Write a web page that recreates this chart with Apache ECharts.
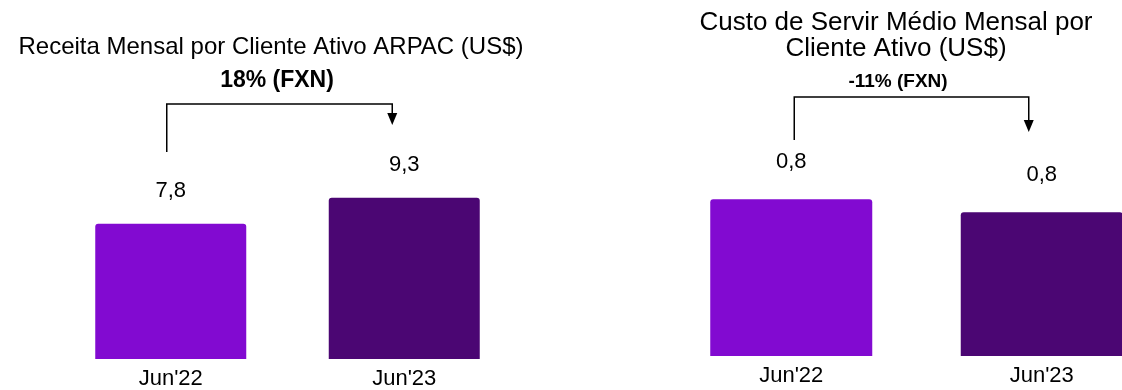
<!DOCTYPE html>
<html>
<head>
<meta charset="utf-8">
<script src="https://cdn.jsdelivr.net/npm/echarts@6/dist/echarts.min.js"></script>
<style>
  html, body { margin: 0; padding: 0; background: #fff; }
  #chart { width: 1122px; height: 390px; }
</style>
</head>
<body>
<div id="chart"></div>
<script>
// dados
const categories = ["Jun'22", "Jun'23"]
const arpacValues = [7.8, 9.3] // Receita mensal por cliente ativo
const custoValues = [0.84, 0.77] // Custo de servir (rótulo arredondado 0,8)
const barColors = ['#820AD1', '#4B0673']
const arpacTitle = 'Receita Mensal por Cliente Ativo ARPAC (US$)'
const custoTitle = 'Custo de Servir Médio Mensal por\nCliente Ativo (US$)'
const arpacChange = '18% (FXN)'
const custoChange = '-11% (FXN)'

const font = '"Liberation Sans", Arial, Helvetica, sans-serif'
const fmt = (p) => p.value.toFixed(1).replace('.', ',')

const chart = echarts.init(document.getElementById('chart'))

const makeSeries = (values, idx, barWidth, dist) => ({
  type: 'bar',
  xAxisIndex: idx,
  yAxisIndex: idx,
  barWidth: barWidth,
  data: values.map((v, i) => ({ value: v, itemStyle: { color: barColors[i] } })),
  itemStyle: { borderRadius: [3, 3, 0, 0] },
  label: {
    show: true,
    position: 'top',
    distance: dist,
    formatter: fmt,
    color: '#000',
    fontFamily: font,
    fontSize: 22,
  },
})

const xAxisBase = (idx) => ({
  type: 'category',
  gridIndex: idx,
  data: categories,
  axisLine: { show: false },
  axisTick: { show: false },
  axisLabel: { color: '#000', fontFamily: font, fontSize: 22, margin: 9 },
})

const yAxisBase = (idx, max) => ({
  type: 'value',
  gridIndex: idx,
  min: 0,
  max: max,
  show: false,
  splitLine: { show: false },
})

const option = {
  animation: false,
  backgroundColor: '#fff',
  title: [
    {
      text: arpacTitle,
      left: 266,
      top: 30,
      textAlign: 'center',
      textStyle: { fontFamily: font, fontSize: 24, fontWeight: 'normal', color: '#000' },
    },
    {
      text: arpacChange,
      left: 272,
      top: 64,
      textAlign: 'center',
      textStyle: { fontFamily: font, fontSize: 23, fontWeight: 'bold', color: '#000' },
    },
    {
      text: custoTitle,
      left: 891,
      top: 5,
      textAlign: 'center',
      textStyle: { fontFamily: font, fontSize: 26, fontWeight: 'normal', color: '#000', lineHeight: 26 },
    },
    {
      text: custoChange,
      left: 893,
      top: 67,
      textAlign: 'center',
      textStyle: { fontFamily: font, fontSize: 19, fontWeight: 'bold', color: '#000' },
    },
  ],
  grid: [
    { left: 54, width: 467, top: 151, bottom: 31, outerBoundsMode: 'none' },
    { left: 666, width: 501, top: 132, bottom: 34, outerBoundsMode: 'none' },
  ],
  xAxis: [xAxisBase(0), xAxisBase(1)],
  yAxis: [yAxisBase(0, 12), yAxisBase(1, 1.2)],
  series: [makeSeries(arpacValues, 0, 151, 22), makeSeries(custoValues, 1, 162, 26)],
}

chart.setOption(option)

// colchete com seta entre as barras (posições x a partir das categorias)
const bracket = (idx, offA, offB, yTop, yStart, yTip) => {
  const xa = chart.convertToPixel({ xAxisIndex: idx }, categories[0]) + offA
  const xb = chart.convertToPixel({ xAxisIndex: idx }, categories[1]) + offB
  return [
    {
      type: 'polyline',
      shape: { points: [[xa, yStart], [xa, yTop], [xb, yTop], [xb, yTip - 10]] },
      style: { stroke: '#000', lineWidth: 1.5, fill: null },
    },
    {
      type: 'polygon',
      shape: { points: [[xb - 5, yTip - 12], [xb + 5, yTip - 12], [xb, yTip]] },
      style: { fill: '#000' },
    },
  ]
}

chart.setOption({
  graphic: [
    ...bracket(0, -4, -12, 104, 152, 125),
    ...bracket(1, 3, -13, 97, 140, 132),
  ],
})
</script>
</body>
</html>
